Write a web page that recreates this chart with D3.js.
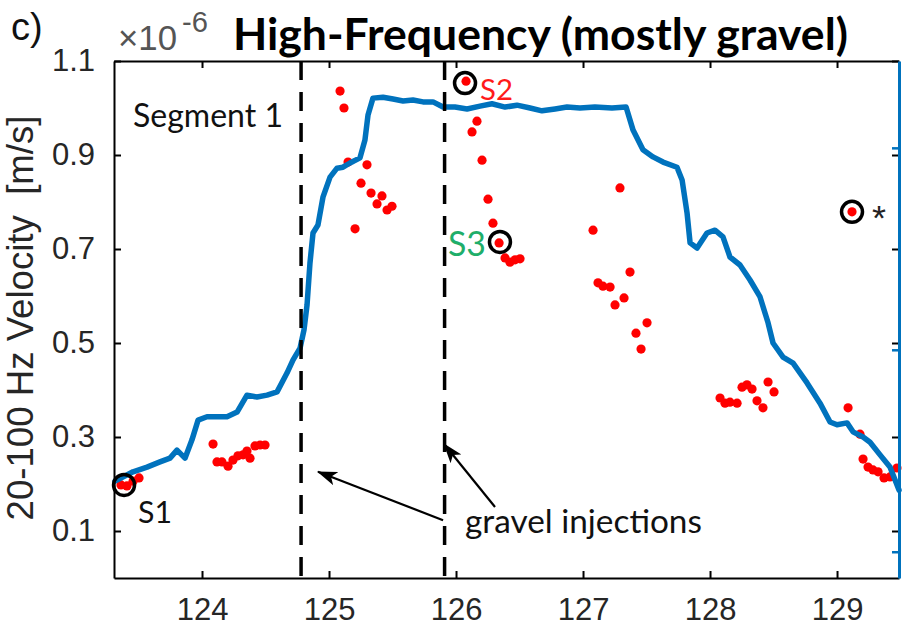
<!DOCTYPE html>
<html><head><meta charset="utf-8">
<script src="https://cdn.jsdelivr.net/npm/d3@7"></script>
<style>body{margin:0;background:#fff} svg{display:block}</style>
</head><body><svg id="c" width="902" height="629"></svg>
<script>
// ---- data (time axis, velocity in 1e-6 m/s) ----
const lineX = [123.315,123.457,123.567,123.669,123.748,123.803,123.866,123.921,123.969,124.039,124.197,124.276,124.354,124.433,124.512,124.591,124.669,124.717,124.772,124.803,124.827,124.850,124.874,124.913,124.953,125.008,125.063,125.110,125.165,125.244,125.283,125.307,125.346,125.425,125.504,125.583,125.661,125.740,125.819,125.898,125.992,126.087,126.189,126.283,126.386,126.480,126.583,126.677,126.780,126.874,126.976,127.094,127.228,127.339,127.394,127.472,127.551,127.630,127.740,127.780,127.819,127.843,127.898,127.976,128.039,128.102,128.157,128.236,128.315,128.394,128.457,128.496,128.575,128.654,128.764,128.866,128.945,129.000,129.079,129.126,129.205,129.260,129.339,129.417,129.488];
const lineY = [0.206,0.226,0.236,0.247,0.255,0.272,0.255,0.294,0.336,0.343,0.343,0.353,0.389,0.385,0.389,0.396,0.436,0.464,0.489,0.528,0.581,0.670,0.734,0.751,0.811,0.853,0.872,0.874,0.883,0.894,0.932,0.985,1.021,1.023,1.019,1.015,1.017,1.013,1.013,1.002,1.002,0.998,1.004,1.009,1.002,1.006,1.000,0.994,0.998,1.002,1.000,1.002,1.000,1.002,0.953,0.911,0.896,0.885,0.874,0.847,0.777,0.713,0.702,0.734,0.740,0.726,0.683,0.666,0.634,0.598,0.543,0.500,0.470,0.457,0.415,0.372,0.332,0.326,0.330,0.311,0.300,0.289,0.262,0.236,0.187];

const dotX = [123.362,123.409,123.457,123.504,
  124.087,124.118,124.157,124.205,124.244,124.283,124.323,124.354,124.378,124.417,124.457,124.496,
  125.087,125.118,125.150,125.299,125.252,125.331,125.417,125.378,125.457,125.496,125.205,
  126.079,126.165,126.126,126.205,126.252,126.291,126.339,126.386,126.425,126.465,126.504,
  127.079,127.291,127.118,127.157,127.213,127.252,127.323,127.370,127.417,127.504,127.457,
  128.079,128.118,128.157,128.213,128.252,128.291,128.331,128.370,128.417,128.457,128.504,
  129.087,129.181,129.205,129.244,129.283,129.323,129.370,129.417,129.472,
  129.118];
const dotY = [0.198,0.196,0.206,0.213,
  0.285,0.247,0.247,0.238,0.251,0.260,0.262,0.270,0.255,0.281,0.283,0.283,
  1.036,1.000,0.885,0.879,0.840,0.819,0.813,0.796,0.783,0.791,0.743,
  1.057,0.972,0.949,0.889,0.806,0.755,0.713,0.681,0.672,0.677,0.679,
  0.740,0.830,0.628,0.621,0.619,0.581,0.596,0.651,0.521,0.543,0.487,
  0.383,0.372,0.374,0.372,0.406,0.411,0.402,0.377,0.362,0.417,0.396,
  0.362,0.306,0.253,0.236,0.230,0.226,0.213,0.215,0.234,
  0.779];

const circledNames = ["S1","S2","S3","*"];
const circledX = [123.386,126.071,126.346,129.118];
const circledY = [0.198,1.053,0.715,0.779];

const injectionX = [124.78, 125.91];
const xTicks = [124,125,126,127,128,129];
const yTicks = [0.1,0.3,0.5,0.7,0.9,1.1];
const rightTicks = [0,1,2];

const titleText = "High-Frequency (mostly gravel)";
const yLabelText = "20-100 Hz Velocity  [m/s]";

// ---- layout ----
const svg = d3.select("#c");
const L = 114, R = 899, T = 61, B = 578;
const x = d3.scaleLinear().domain([123.307, 129.488]).range([L, R]);
const y = d3.scaleLinear().domain([0, 1.1]).range([B, T]);
const yR = d3.scaleLinear().domain([-0.13, 2.43]).range([B, T]);
const tickFont = "'Liberation Sans', Arial, sans-serif";
const annFont = "Lato, 'Open Sans', sans-serif";
const blue = "#0072BD";

function fit(sel, w) {
  const n = sel.node();
  const cur = parseFloat(sel.attr("font-size"));
  const len = n.getComputedTextLength();
  sel.attr("font-size", cur * w / len);
  return sel;
}

// red dots
svg.append("g").selectAll("circle").data(dotX).join("circle")
  .attr("cx", d => x(d)).attr("cy", (d, i) => y(dotY[i]))
  .attr("r", 4.6).attr("fill", "#ff0000");

// blue line
const pts = lineX.map((d, i) => [d, lineY[i]]);
svg.append("path").datum(pts)
  .attr("d", d3.line().x(d => x(d[0])).y(d => y(d[1])).curve(d3.curveLinear))
  .attr("fill", "none").attr("stroke", blue).attr("stroke-width", 5.5)
  .attr("stroke-linejoin", "round").attr("stroke-linecap", "round");

// dashed injection lines
svg.append("g").selectAll("line").data(injectionX).join("line")
  .attr("x1", d => x(d)).attr("x2", d => x(d)).attr("y1", T).attr("y2", B)
  .attr("stroke", "#000").attr("stroke-width", 3.5).attr("stroke-dasharray", "19,12");

// circled points
svg.append("g").selectAll("circle").data(circledX).join("circle")
  .attr("cx", d => x(d)).attr("cy", (d, i) => y(circledY[i]))
  .attr("r", 10.5).attr("fill", "none").attr("stroke", "#000").attr("stroke-width", 3.5);

// axes
function styleAxis(g) {
  g.selectAll("path.domain").attr("stroke", "#000").attr("stroke-width", 2);
  g.selectAll(".tick line").attr("stroke", "#000").attr("stroke-width", 2);
  g.selectAll(".tick text").attr("fill", "#262626").attr("font-family", tickFont).attr("font-size", 31);
}
svg.append("g").attr("transform", `translate(0,${B})`)
  .call(d3.axisBottom(x).tickValues(xTicks).tickFormat(d3.format("d")).tickSizeInner(-7).tickSizeOuter(0).tickPadding(20))
  .call(styleAxis);
svg.append("g").attr("transform", `translate(0,${T})`)
  .call(d3.axisTop(x).tickValues(xTicks).tickFormat("").tickSizeInner(-7).tickSizeOuter(0))
  .call(styleAxis);
svg.append("g").attr("transform", `translate(${L},0)`)
  .call(d3.axisLeft(y).tickValues(yTicks).tickFormat(d3.format(".1f")).tickSizeInner(-7).tickSizeOuter(0).tickPadding(19))
  .call(styleAxis);
svg.append("g").attr("transform", `translate(${R},0)`)
  .call(d3.axisRight(y).tickValues(yTicks).tickFormat("").tickSizeInner(-7).tickSizeOuter(0))
  .call(styleAxis).call(g => g.select("path.domain").remove());
// blue right axis
svg.append("g").attr("transform", `translate(${R},0)`)
  .call(d3.axisRight(yR).tickValues(rightTicks).tickFormat("").tickSizeInner(-7).tickSizeOuter(0))
  .call(g => { g.selectAll("path.domain").attr("stroke", blue).attr("stroke-width", 3);
               g.selectAll(".tick line").attr("stroke", blue).attr("stroke-width", 2.5); });

// exponent
fit(svg.append("text").attr("x", 118).attr("y", 50).attr("font-family", tickFont)
  .attr("font-size", 27).attr("fill", "#555").text("\u00d710"), 59);
fit(svg.append("text").attr("x", 182).attr("y", 32).attr("font-family", tickFont)
  .attr("font-size", 19).attr("fill", "#555").text("-6"), 26);

// y label
fit(svg.append("text").attr("transform", "translate(33,318) rotate(-90)")
  .attr("text-anchor", "middle").attr("font-family", tickFont).attr("font-size", 34)
  .attr("fill", "#262626").style("white-space", "pre").text(yLabelText), 405);

// title
fit(svg.append("text").attr("x", 233).attr("y", 50).attr("font-family", annFont)
  .attr("font-weight", "bold").attr("font-size", 36).attr("fill", "#000").text(titleText), 615);

// panel label
svg.append("text").attr("x", 11).attr("y", 40).attr("font-family", tickFont)
  .attr("font-size", 38).attr("fill", "#111").text("c)");

// annotations
fit(svg.append("text").attr("x", 133).attr("y", 127).attr("font-family", annFont)
  .attr("font-size", 28).attr("fill", "#111").text("Segment 1"), 150);
fit(svg.append("text").attr("x", 465).attr("y", 533).attr("font-family", annFont)
  .attr("font-size", 28).attr("fill", "#111").text("gravel injections"), 237);

const sLab = [
  {t: "S1", px: 138, py: 523, w: 34, c: "#111", f: annFont},
  {t: "S2", px: 480, py: 100, w: 33, c: "#ff1a1a", f: annFont},
  {t: "S3", px: 448, py: 256, w: 38, c: "#1fae6a", f: annFont},
  {t: "*",  px: 872, py: 230, w: 14, c: "#222", f: tickFont}
];
sLab.forEach(s => fit(svg.append("text").attr("x", s.px).attr("y", s.py)
  .attr("font-family", s.f).attr("font-size", 26).attr("fill", s.c).text(s.t), s.w));

// arrows
const defs = svg.append("defs");
defs.append("marker").attr("id", "ah").attr("viewBox", "0 0 20 14")
  .attr("refX", 19).attr("refY", 7).attr("markerWidth", 20).attr("markerHeight", 14)
  .attr("markerUnits", "userSpaceOnUse").attr("orient", "auto")
  .append("path").attr("d", "M0,0 L20,7 L0,14 L5,7 Z").attr("fill", "#000");
const arrowFrom = [[125.898, 0.123], [126.307, 0.151]];
const arrowTo = [[124.913, 0.226], [125.906, 0.285]];
svg.append("g").selectAll("line").data(arrowFrom).join("line")
  .attr("x1", d => x(d[0])).attr("y1", d => y(d[1]))
  .attr("x2", (d, i) => x(arrowTo[i][0])).attr("y2", (d, i) => y(arrowTo[i][1]))
  .attr("stroke", "#000").attr("stroke-width", 2.2).attr("marker-end", "url(#ah)");
</script></body></html>
